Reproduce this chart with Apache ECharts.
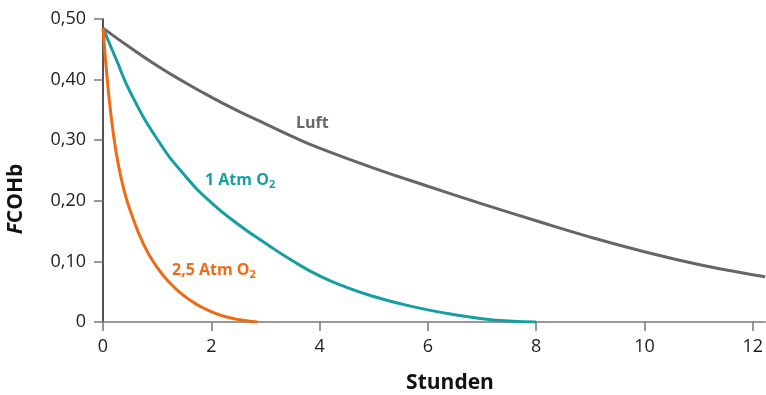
<!DOCTYPE html>
<html>
<head>
<meta charset="utf-8">
<script src="https://cdn.jsdelivr.net/npm/echarts@6/dist/echarts.min.js"></script>
<style>
  html, body { margin: 0; padding: 0; background: #fff; }
  #chart { width: 766px; height: 395px; }
</style>
</head>
<body>
<div id="chart"></div>
<script>
// Stunden / FCOHb pairs for each breathing condition
const luftHours = [0, 0.5, 1, 1.5, 2, 2.5, 3, 3.5, 4, 5, 6, 7, 8, 9, 10, 11, 12, 12.23];
const luftValues = [0.485, 0.453, 0.423, 0.396, 0.371, 0.348, 0.327, 0.306, 0.287, 0.254, 0.224, 0.195, 0.167, 0.140, 0.116, 0.095, 0.078, 0.0745];

const atm1Hours = [0, 0.25, 0.5, 1, 1.5, 2, 2.5, 3, 3.5, 4, 4.5, 5, 5.5, 6, 6.5, 7, 7.5, 8];
const atm1Values = [0.485, 0.432, 0.380, 0.302, 0.243, 0.197, 0.161, 0.130, 0.101, 0.076, 0.057, 0.042, 0.030, 0.020, 0.012, 0.0055, 0.0015, 0];

const atm25Hours = [0, 0.1, 0.2, 0.3, 0.4, 0.5, 0.75, 1, 1.25, 1.5, 1.75, 2, 2.25, 2.5, 2.85];
const atm25Values = [0.485, 0.380, 0.305, 0.252, 0.214, 0.185, 0.128, 0.090, 0.063, 0.043, 0.028, 0.017, 0.009, 0.004, 0];

const xTicks = [0, 2, 4, 6, 8, 10, 12];
const yTicks = [0, 0.1, 0.2, 0.3, 0.4, 0.5];

const colLuft = '#666666';
const colAtm1 = '#159fa3';
const colAtm25 = '#ef6a12';
const FONT = 'Open Sans';

const pairs = (xs, ys) => xs.map((x, i) => [x, ys[i]]);

const chart = echarts.init(document.getElementById('chart'), null, { renderer: 'canvas' });

const lineSeries = (name, xs, ys, color) => ({
  name, type: 'line', data: pairs(xs, ys), smooth: 0.5,
  showSymbol: false, symbol: 'none', lineStyle: { color, width: 3 }, silent: true
});

const subRich = (color) => ({
  m: { fontFamily: FONT, fontWeight: 'bold', fontSize: 16, lineHeight: 20, fill: color },
  s: { fontFamily: FONT, fontWeight: 'bold', fontSize: 11, lineHeight: 11, fill: color, verticalAlign: 'bottom' }
});

chart.setOption({
  animation: false,
  backgroundColor: '#ffffff',
  grid: { left: 103, right: 0, top: 19, bottom: 73, containLabel: false },
  xAxis: {
    type: 'value', min: 0, max: 12.23,
    axisLine: { show: true, onZero: true, lineStyle: { color: '#777777', width: 1.5 } },
    axisTick: { show: true, length: 9, customValues: xTicks, lineStyle: { color: '#777777', width: 1.5 } },
    axisLabel: { customValues: xTicks, margin: 16, fontFamily: FONT, fontSize: 18, color: '#222222',
      formatter: v => String(v) },
    splitLine: { show: false }
  },
  yAxis: {
    type: 'value', min: 0, max: 0.5,
    axisLine: { show: true, lineStyle: { color: '#1a1a1a', width: 1.5 } },
    axisTick: { show: true, length: 9, customValues: yTicks, lineStyle: { color: '#777777', width: 1.5 } },
    axisLabel: { customValues: yTicks, margin: 17, fontFamily: FONT, fontSize: 18, color: '#222222',
      formatter: v => (Math.abs(v) < 1e-9 ? '0' : v.toFixed(2).replace('.', ',')) },
    splitLine: { show: false }
  },
  series: [
    lineSeries('Luft', luftHours, luftValues, colLuft),
    lineSeries('1 Atm O2', atm1Hours, atm1Values, colAtm1),
    lineSeries('2,5 Atm O2', atm25Hours, atm25Values, colAtm25)
  ],
  graphic: [
    { type: 'text', left: 296, top: 115,
      style: { text: 'Luft', fontFamily: FONT, fontWeight: 'bold', fontSize: 16, fill: colLuft } },
    { type: 'text', left: 205, top: 172,
      style: { text: '{m|1 Atm O}{s|2}', rich: subRich(colAtm1) } },
    { type: 'text', left: 172, top: 262,
      style: { text: '{m|2,5 Atm O}{s|2}', rich: subRich(colAtm25) } },
    { type: 'text', x: 450, y: 383,
      style: { text: 'Stunden', fontFamily: FONT, fontWeight: 'bold', fontSize: 21, fill: '#111111',
        align: 'center', verticalAlign: 'middle' } },
    { type: 'text', x: 16, y: 199, rotation: Math.PI / 2,
      style: { text: '{i|F}{b|COHb}', align: 'center', verticalAlign: 'middle',
        rich: {
          i: { fontFamily: FONT, fontWeight: 'bold', fontStyle: 'italic', fontSize: 21, fill: '#111111' },
          b: { fontFamily: FONT, fontWeight: 'bold', fontSize: 21, fill: '#111111' }
        } } }
  ]
});
</script>
</body>
</html>
